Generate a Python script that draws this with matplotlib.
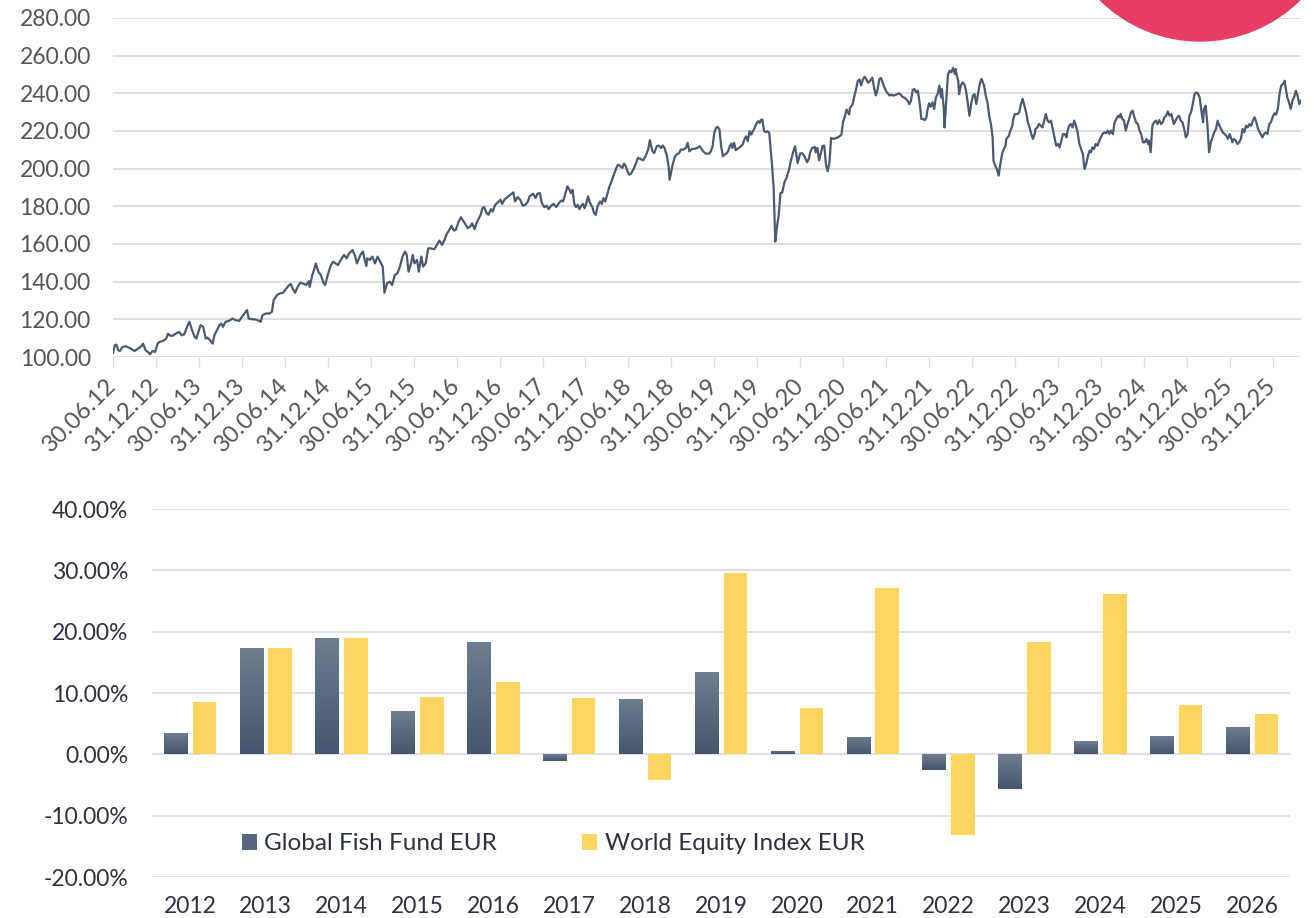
import numpy as np
import matplotlib.pyplot as plt
from matplotlib.colors import LinearSegmentedColormap
from matplotlib.patches import Ellipse

# ---- data ----
# top chart: fund value over time (x in decimal years)
t_years = [
    2012.50, 2012.52, 2012.54, 2012.56, 2012.58, 2012.61, 2012.65, 2012.71, 2012.75, 2012.79,
    2012.83, 2012.85, 2012.88, 2012.92, 2012.93, 2012.96, 2012.99, 2013.02, 2013.04, 2013.08,
    2013.12, 2013.14, 2013.16, 2013.19, 2013.23, 2013.27, 2013.30, 2013.33, 2013.37, 2013.39,
    2013.42, 2013.45, 2013.47, 2013.50, 2013.52, 2013.55, 2013.58, 2013.60, 2013.63, 2013.66,
    2013.68, 2013.71, 2013.74, 2013.76, 2013.78, 2013.81, 2013.85, 2013.89, 2013.93, 2013.97,
    2014.00, 2014.03, 2014.06, 2014.08, 2014.11, 2014.16, 2014.20, 2014.22, 2014.24, 2014.28,
    2014.32, 2014.35, 2014.37, 2014.41, 2014.44, 2014.48, 2014.51, 2014.55, 2014.57, 2014.59,
    2014.62, 2014.65, 2014.68, 2014.71, 2014.75, 2014.78, 2014.79, 2014.82, 2014.84, 2014.86,
    2014.89, 2014.92, 2014.95, 2014.97, 2015.00, 2015.03, 2015.06, 2015.09, 2015.12, 2015.15,
    2015.19, 2015.22, 2015.25, 2015.29, 2015.32, 2015.34, 2015.38, 2015.41, 2015.43, 2015.45,
    2015.46, 2015.49, 2015.52, 2015.55, 2015.58, 2015.60, 2015.62, 2015.64, 2015.66, 2015.69,
    2015.72, 2015.75, 2015.78, 2015.81, 2015.84, 2015.87, 2015.90, 2015.92, 2015.94, 2015.97,
    2015.99, 2016.01, 2016.04, 2016.06, 2016.09, 2016.11, 2016.14, 2016.17, 2016.20, 2016.24,
    2016.27, 2016.30, 2016.33, 2016.36, 2016.38, 2016.42, 2016.44, 2016.47, 2016.49, 2016.52,
    2016.55, 2016.57, 2016.60, 2016.63, 2016.66, 2016.68, 2016.71, 2016.73, 2016.76, 2016.78,
    2016.80, 2016.82, 2016.85, 2016.87, 2016.90, 2016.92, 2016.95, 2016.98, 2017.01, 2017.03,
    2017.06, 2017.08, 2017.11, 2017.15, 2017.16, 2017.18, 2017.21, 2017.24, 2017.27, 2017.30,
    2017.33, 2017.35, 2017.39, 2017.42, 2017.44, 2017.47, 2017.49, 2017.52, 2017.55, 2017.57,
    2017.60, 2017.63, 2017.66, 2017.69, 2017.72, 2017.74, 2017.77, 2017.79, 2017.81, 2017.83,
    2017.85, 2017.87, 2017.89, 2017.91, 2017.93, 2017.95, 2017.97, 2017.99, 2018.01, 2018.03,
    2018.05, 2018.08, 2018.10, 2018.12, 2018.14, 2018.17, 2018.19, 2018.21, 2018.23, 2018.26,
    2018.28, 2018.31, 2018.34, 2018.36, 2018.38, 2018.40, 2018.43, 2018.45, 2018.47, 2018.49,
    2018.51, 2018.53, 2018.56, 2018.59, 2018.61, 2018.64, 2018.67, 2018.70, 2018.73, 2018.75,
    2018.78, 2018.80, 2018.83, 2018.85, 2018.88, 2018.90, 2018.92, 2018.95, 2018.97, 2018.98,
    2019.01, 2019.04, 2019.06, 2019.09, 2019.11, 2019.14, 2019.17, 2019.19, 2019.21, 2019.24,
    2019.27, 2019.30, 2019.33, 2019.35, 2019.37, 2019.40, 2019.44, 2019.46, 2019.48, 2019.50,
    2019.52, 2019.54, 2019.56, 2019.58, 2019.60, 2019.62, 2019.64, 2019.66, 2019.68, 2019.70,
    2019.71, 2019.73, 2019.75, 2019.77, 2019.80, 2019.83, 2019.85, 2019.87, 2019.89, 2019.91,
    2019.93, 2019.95, 2019.97, 2019.99, 2020.01, 2020.03, 2020.04, 2020.06, 2020.08, 2020.10,
    2020.12, 2020.14, 2020.16, 2020.17, 2020.19, 2020.20, 2020.21, 2020.23, 2020.25, 2020.27,
    2020.29, 2020.32, 2020.34, 2020.37, 2020.39, 2020.42, 2020.44, 2020.47, 2020.50, 2020.52,
    2020.55, 2020.58, 2020.60, 2020.62, 2020.64, 2020.67, 2020.68, 2020.70, 2020.72, 2020.74,
    2020.76, 2020.78, 2020.80, 2020.82, 2020.84, 2020.86, 2020.89, 2020.92, 2020.95, 2020.98,
    2021.00, 2021.01, 2021.04, 2021.07, 2021.08, 2021.11, 2021.13, 2021.15, 2021.17, 2021.19,
    2021.21, 2021.23, 2021.25, 2021.27, 2021.29, 2021.31, 2021.34, 2021.36, 2021.38, 2021.40,
    2021.42, 2021.44, 2021.46, 2021.48, 2021.50, 2021.52, 2021.54, 2021.56, 2021.58, 2021.62,
    2021.65, 2021.67, 2021.69, 2021.72, 2021.75, 2021.77, 2021.79, 2021.81, 2021.83, 2021.85,
    2021.87, 2021.89, 2021.91, 2021.93, 2021.95, 2021.97, 2021.98, 2022.00, 2022.02, 2022.04,
    2022.06, 2022.08, 2022.10, 2022.12, 2022.14, 2022.15, 2022.17, 2022.18, 2022.19, 2022.21,
    2022.22, 2022.24, 2022.26, 2022.28, 2022.30, 2022.31, 2022.32, 2022.34, 2022.35, 2022.37,
    2022.39, 2022.41, 2022.43, 2022.45, 2022.47, 2022.49, 2022.51, 2022.53, 2022.55, 2022.57,
    2022.59, 2022.61, 2022.62, 2022.64, 2022.66, 2022.68, 2022.70, 2022.72, 2022.74, 2022.75,
    2022.77, 2022.79, 2022.81, 2022.83, 2022.85, 2022.87, 2022.89, 2022.90, 2022.93, 2022.94,
    2022.97, 2022.98, 2023.00, 2023.03, 2023.05, 2023.07, 2023.09, 2023.11, 2023.13, 2023.15,
    2023.17, 2023.19, 2023.21, 2023.23, 2023.24, 2023.26, 2023.28, 2023.30, 2023.32, 2023.34,
    2023.36, 2023.38, 2023.40, 2023.42, 2023.44, 2023.46, 2023.48, 2023.50, 2023.52, 2023.54,
    2023.56, 2023.58, 2023.60, 2023.61, 2023.63, 2023.65, 2023.67, 2023.69, 2023.71, 2023.73,
    2023.75, 2023.77, 2023.79, 2023.81, 2023.83, 2023.85, 2023.87, 2023.885, 2023.90, 2023.92,
    2023.94, 2023.96, 2023.98, 2024.00, 2024.02, 2024.04, 2024.06, 2024.08, 2024.10, 2024.12,
    2024.14, 2024.16, 2024.18, 2024.20, 2024.22, 2024.23, 2024.25, 2024.27, 2024.29, 2024.31,
    2024.33, 2024.35, 2024.37, 2024.39, 2024.41, 2024.43, 2024.45, 2024.47, 2024.49, 2024.51,
    2024.53, 2024.55, 2024.56, 2024.58, 2024.60, 2024.62, 2024.64, 2024.66, 2024.68, 2024.70,
    2024.72, 2024.74, 2024.76, 2024.78, 2024.80, 2024.82, 2024.84, 2024.85, 2024.87, 2024.89,
    2024.91, 2024.93, 2024.95, 2024.97, 2024.99, 2025.01, 2025.03, 2025.05, 2025.07, 2025.09,
    2025.11, 2025.13, 2025.15, 2025.17, 2025.19, 2025.20, 2025.22, 2025.24, 2025.26, 2025.28,
    2025.30, 2025.32, 2025.34, 2025.36, 2025.38, 2025.40, 2025.42, 2025.44, 2025.46, 2025.48,
    2025.50, 2025.52, 2025.53, 2025.55, 2025.57, 2025.59, 2025.61, 2025.63, 2025.65, 2025.67,
    2025.69, 2025.71, 2025.73, 2025.75, 2025.77, 2025.79, 2025.81, 2025.83, 2025.85, 2025.86,
    2025.88, 2025.90, 2025.92, 2025.94, 2025.96, 2025.98, 2026.00, 2026.02, 2026.04, 2026.06,
    2026.08, 2026.10, 2026.12, 2026.14, 2026.15, 2026.17, 2026.19, 2026.21, 2026.23, 2026.25,
    2026.27, 2026.29, 2026.31, 2026.33,
]
fund_value = [
    102.1, 106.2, 106.6, 103.6, 103.2, 105.3, 105.7, 104.4, 103.2, 104.4,
    105.7, 107.1, 103.6, 102.1, 101.4, 103.2, 102.7, 107.1, 108.0, 108.5,
    109.8, 112.4, 111.5, 111.2, 112.4, 113.3, 111.5, 112.1, 116.9, 118.7,
    114.2, 110.7, 109.8, 114.2, 116.9, 116.0, 109.8, 110.3, 108.9, 107.1,
    111.5, 114.2, 116.9, 117.8, 116.0, 118.7, 119.2, 120.4, 119.5, 119.2,
    121.3, 123.1, 124.9, 120.4, 120.1, 119.9, 119.2, 118.7, 122.2, 123.1,
    123.1, 124.0, 130.2, 132.9, 133.7, 134.1, 135.9, 138.2, 138.7, 136.4,
    134.1, 137.3, 139.4, 139.1, 138.2, 140.3, 137.3, 143.5, 146.2, 149.7,
    145.3, 143.5, 139.4, 138.2, 143.5, 148.0, 150.6, 149.7, 148.8, 151.5,
    154.2, 152.4, 155.1, 156.8, 153.3, 149.7, 154.2, 156.0, 151.5, 148.3,
    152.4, 151.5, 153.3, 149.7, 153.3, 151.5, 149.7, 148.0, 134.1, 139.1,
    140.0, 138.2, 143.5, 144.4, 148.0, 153.3, 156.0, 154.2, 145.3, 149.7,
    154.2, 149.7, 151.5, 145.3, 153.3, 148.0, 149.7, 157.7, 157.7, 157.2,
    159.5, 161.8, 159.5, 162.2, 164.8, 167.9, 169.6, 167.1, 167.5, 171.4,
    174.2, 172.8, 170.7, 168.4, 169.3, 171.0, 167.9, 171.0, 173.7, 175.5,
    179.0, 179.6, 176.4, 175.5, 178.5, 177.3, 180.8, 182.1, 183.5, 181.3,
    183.8, 184.4, 185.6, 187.0, 187.4, 182.6, 184.9, 183.5, 180.3, 180.8,
    182.6, 185.3, 186.7, 184.4, 186.7, 187.0, 182.1, 179.6, 180.3, 178.5,
    180.3, 181.3, 179.6, 181.7, 183.1, 182.6, 187.4, 190.6, 189.2, 187.0,
    188.8, 181.3, 179.6, 180.8, 178.5, 180.3, 181.3, 179.0, 181.7, 185.3,
    182.1, 179.6, 176.4, 175.5, 179.9, 182.6, 181.3, 184.4, 182.6, 187.4,
    190.6, 194.1, 198.0, 200.4, 202.1, 201.6, 200.4, 202.7, 201.2, 198.6,
    196.8, 197.3, 199.8, 203.0, 205.7, 205.2, 204.4, 206.6, 210.1, 215.1,
    209.2, 208.3, 211.9, 212.3, 211.0, 212.3, 211.0, 206.6, 200.4, 194.1,
    201.2, 206.2, 207.5, 208.3, 210.1, 210.1, 211.0, 213.7, 209.2, 210.5,
    210.5, 211.0, 211.9, 210.5, 209.2, 208.0, 208.0, 209.2, 211.9, 219.0,
    221.7, 222.2, 220.8, 211.9, 206.6, 207.5, 208.0, 209.2, 211.9, 213.3,
    211.0, 213.7, 209.8, 210.5, 211.5, 212.8, 215.5, 217.2, 214.6, 219.9,
    218.1, 219.9, 221.7, 224.0, 225.2, 224.3, 225.8, 226.1, 219.9, 219.4,
    219.9, 219.0, 208.3, 203.0, 190.6, 176.4, 161.3, 169.3, 175.5, 187.0,
    187.4, 193.3, 195.0, 199.5, 203.9, 209.2, 211.9, 203.0, 208.0, 208.3,
    206.6, 203.4, 205.2, 209.2, 211.0, 211.5, 208.7, 211.0, 204.4, 208.3,
    211.9, 212.3, 202.1, 198.6, 203.0, 216.3, 215.8, 216.3, 216.9, 218.1,
    225.2, 226.1, 231.4, 228.8, 232.3, 234.1, 238.5, 242.1, 246.5, 247.4,
    244.2, 247.4, 248.8, 247.4, 245.6, 246.5, 248.3, 243.0, 238.9, 241.7,
    247.4, 248.1, 245.8, 243.2, 241.1, 240.0, 238.8, 239.3, 238.8, 239.3,
    240.0, 239.3, 238.2, 237.5, 236.1, 234.3, 236.1, 241.8, 242.3, 240.5,
    241.4, 235.2, 226.4, 226.4, 225.8, 227.3, 230.8, 234.7, 232.9, 235.2,
    231.7, 237.9, 239.6, 244.1, 237.9, 242.3, 232.6, 221.9, 229.0, 243.2,
    249.9, 252.0, 251.2, 253.5, 250.3, 252.9, 249.9, 246.7, 239.6, 244.1,
    245.8, 245.0, 241.4, 235.2, 228.1, 234.3, 238.8, 239.6, 234.3, 239.6,
    245.0, 247.6, 246.7, 244.1, 238.8, 235.2, 228.1, 223.7, 216.6, 204.2,
    201.6, 199.8, 196.3, 202.5, 207.8, 210.4, 212.2, 215.8, 217.5, 219.3,
    222.8, 226.4, 229.0, 229.0, 229.9, 234.3, 237.0, 233.5, 229.9, 224.6,
    221.9, 218.4, 215.8, 218.4, 221.1, 221.9, 223.7, 222.8, 221.9, 225.5,
    229.0, 225.5, 224.6, 225.5, 221.1, 216.6, 212.2, 213.1, 211.3, 214.9,
    218.4, 218.4, 216.6, 219.3, 222.8, 223.7, 221.9, 225.5, 222.8, 219.3,
    213.1, 210.4, 207.8, 199.8, 202.5, 206.9, 209.6, 208.7, 211.3, 210.4,
    213.1, 212.2, 214.5, 216.6, 218.4, 219.3, 218.8, 220.2, 218.4, 220.2,
    218.4, 224.6, 226.4, 228.1, 227.3, 229.0, 226.4, 225.5, 220.2, 223.7,
    226.4, 229.9, 230.8, 227.3, 224.6, 223.7, 220.2, 218.4, 214.0, 214.0,
    215.8, 213.1, 214.9, 208.7, 222.8, 224.6, 225.5, 223.7, 225.8, 223.7,
    224.6, 227.3, 228.1, 230.4, 228.1, 229.0, 225.5, 223.7, 225.5, 227.3,
    228.1, 225.5, 224.6, 221.1, 216.6, 218.4, 228.1, 229.9, 234.3, 239.6,
    240.5, 240.0, 237.9, 230.8, 224.6, 231.7, 233.5, 223.7, 208.7, 214.0,
    216.6, 219.3, 221.1, 225.5, 222.8, 221.1, 219.3, 218.4, 217.5, 215.8,
    218.4, 215.8, 214.0, 215.8, 214.9, 213.1, 214.0, 215.8, 221.1, 219.3,
    222.8, 221.9, 223.7, 222.8, 225.5, 227.3, 224.6, 221.1, 219.3, 218.4,
    216.6, 218.4, 219.3, 218.4, 223.7, 224.6, 227.3, 229.4, 228.7, 231.7,
    239.6, 244.1, 245.0, 246.7, 243.2, 237.9, 235.2, 231.7, 236.1, 237.9,
    241.4, 238.8, 234.3, 236.1,
]
date_labels = [
    "30.06.12", "31.12.12", "30.06.13", "31.12.13", "30.06.14", "31.12.14", "30.06.15",
    "31.12.15", "30.06.16", "31.12.16", "30.06.17", "31.12.17", "30.06.18", "31.12.18",
    "30.06.19", "31.12.19", "30.06.20", "31.12.20", "30.06.21", "31.12.21", "30.06.22",
    "31.12.22", "30.06.23", "31.12.23", "30.06.24", "31.12.24", "30.06.25", "31.12.25",
]

# bottom chart: calendar year returns in %
years = ["2012", "2013", "2014", "2015", "2016", "2017", "2018", "2019",
         "2020", "2021", "2022", "2023", "2024", "2025", "2026"]
fish_fund = [3.4, 17.4, 19.0, 7.0, 18.3, -1.1, 9.1, 13.5, 0.6, 2.9, -2.5, -5.6, 2.1, 3.0, 4.5]
world_equity = [8.6, 17.3, 19.0, 9.4, 11.8, 9.2, -4.2, 29.6, 7.5, 27.2, -13.1, 18.3, 26.1, 8.0, 6.5]

# ---- styling ----
plt.rcParams['font.family'] = ['Lato', 'DejaVu Sans']
line_col = '#4a5a70'
grid_top = '#dcdcdc'
grid_bot = '#dfe1ea'
txt_top = '#555555'
txt_bot = '#2c3242'
yellow = '#fdd55f'

fig = plt.figure(figsize=(13.14, 9.18), dpi=100)

# top: line chart
ax1 = fig.add_axes([113/1314, 1-357/918, 1188/1314, 339/918])
ax1.plot(t_years, fund_value, color=line_col, lw=1.6, zorder=3)
ax1.set_xlim(2012.5, 2026.33)
ax1.set_ylim(100, 280)
ax1.set_yticks(np.arange(100, 281, 20))
ax1.yaxis.set_major_formatter(plt.FuncFormatter(lambda v, p: f"{v:.2f}"))
ax1.set_xticks(2012.5 + 0.5*np.arange(len(date_labels)))
ax1.set_xticklabels(date_labels, rotation=45, ha='right', va='center', rotation_mode='anchor')
ax1.grid(axis='y', color=grid_top, lw=1.3)
ax1.set_axisbelow(True)
for s in ax1.spines.values():
    s.set_visible(False)
ax1.tick_params(axis='y', length=0, pad=16, labelsize=16.5, labelcolor=txt_top)
ax1.tick_params(axis='x', length=7, width=1, color=grid_top, pad=11, labelsize=17, labelcolor=txt_top)

# bottom: bar chart
ax2 = fig.add_axes([152/1314, 1-877/918, 1138/1314, 368/918])
x = np.arange(len(years))
w = 0.31
fish_bars = ax2.bar(x - 0.19, fish_fund, w, color='#56667c', zorder=3, label='Global Fish Fund EUR')
eq_bars = ax2.bar(x + 0.19, world_equity, w, color=yellow, zorder=3, label='World Equity Index EUR')

# vertical gradient on the fund bars
cmap = LinearSegmentedColormap.from_list('fish', ['#44556d', '#6f7e90'])
grad = np.linspace(0, 1, 256).reshape(-1, 1)
for b in fish_bars:
    y0, y1 = sorted([b.get_y(), b.get_y() + b.get_height()])
    im = ax2.imshow(grad, extent=[b.get_x(), b.get_x() + b.get_width(), y0, y1],
                    origin='lower', cmap=cmap, aspect='auto', zorder=3.5)
    im.set_clip_path(b)

ax2.set_xlim(-0.5, len(years) - 0.5)
ax2.set_ylim(-20, 40)
ax2.set_yticks(np.arange(-20, 41, 10))
ax2.yaxis.set_major_formatter(plt.FuncFormatter(lambda v, p: f"{v:.2f}%"))
ax2.set_xticks(x)
ax2.set_xticklabels(years)
ax2.grid(axis='y', color=grid_bot, lw=1.5)
ax2.set_axisbelow(True)
for s in ax2.spines.values():
    s.set_visible(False)
ax2.tick_params(axis='both', length=0, labelsize=16.5, labelcolor=txt_bot)
ax2.tick_params(axis='y', pad=17)
ax2.tick_params(axis='x', pad=14)

ax2.legend(loc='center left', bbox_to_anchor=(0.079, 0.09), ncol=2, frameon=False,
           fontsize=17.5, labelcolor=txt_bot, handlelength=0.62, handleheight=0.62,
           handletextpad=0.3, columnspacing=3.5, borderpad=0, borderaxespad=0)

# decorative red circle in the top right corner
fig.add_artist(Ellipse((1200/1314, 1 + 101/918), 284/1314, 284/918,
                       transform=fig.transFigure, color='#e83d62', zorder=10))

fig.savefig('out.png', dpi=100)
